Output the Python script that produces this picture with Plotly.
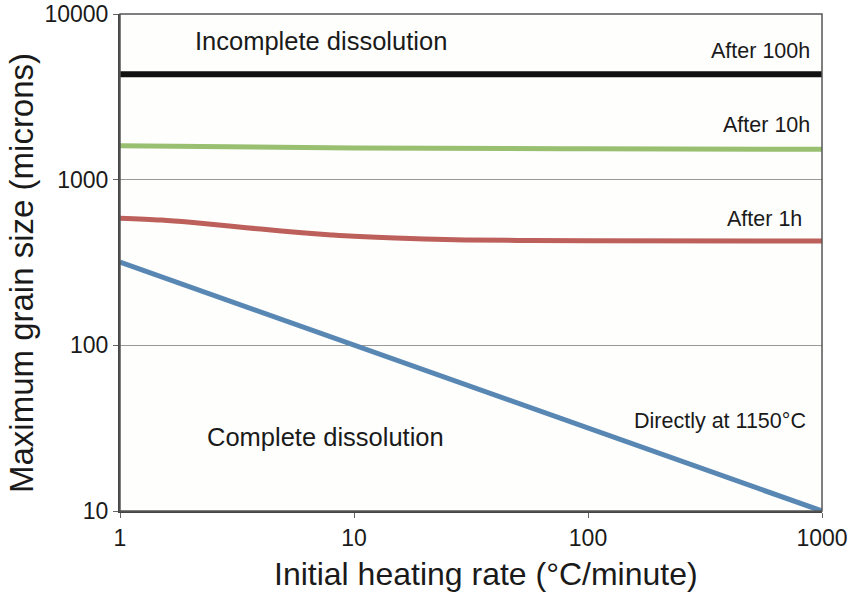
import plotly.graph_objects as go

rate_100h = [1, 10, 100, 1000]
size_100h = [4330, 4330, 4330, 4330]

rate_10h = [1, 10, 100, 1000]
size_10h = [1600, 1555, 1535, 1525]

rate_1h = [1, 1.5, 2, 3, 4, 6, 8, 10, 15, 20, 30, 50, 100, 1000]
size_1h = [585, 570, 553, 524, 503, 478, 464, 455, 444, 438, 433, 430, 428, 426]

rate_direct = [1, 10, 100, 1000]
size_direct = [318, 100, 31.6, 10]

FONT = "Liberation Sans, Arial, Helvetica, sans-serif"
TXT = "#1a1a1a"

fig = go.Figure()
fig.add_trace(go.Scatter(x=rate_100h, y=size_100h, mode="lines",
                         line=dict(color="#111111", width=6), name="After 100h"))
fig.add_trace(go.Scatter(x=rate_10h, y=size_10h, mode="lines",
                         line=dict(color="#98c070", width=5, shape="spline"), name="After 10h"))
fig.add_trace(go.Scatter(x=rate_1h, y=size_1h, mode="lines",
                         line=dict(color="#bd5f5a", width=5, shape="spline", smoothing=1.0), name="After 1h"))
fig.add_trace(go.Scatter(x=rate_direct, y=size_direct, mode="lines",
                         line=dict(color="#5887b3", width=5), name="Directly at 1150°C"))

def ann(text, x, y, xanchor, size, angle=0):
    fig.add_annotation(text=text, x=x, y=y, xref="paper", yref="paper",
                       xanchor=xanchor, yanchor="middle", showarrow=False, textangle=angle,
                       font=dict(family=FONT, size=size, color=TXT))

ann("Incomplete dissolution", 0.286, 0.946, "center", 25.5)
ann("After 100h", 0.986, 0.926, "right", 21.5)
ann("After 10h", 0.986, 0.777, "right", 21.5)
ann("After 1h", 0.974, 0.588, "right", 21.5)
ann("Directly at 1150°C", 0.980, 0.181, "right", 21.5)
ann("Complete dissolution", 0.293, 0.149, "center", 25.5)

# axis titles
fig.add_annotation(text="Initial heating rate (°C/minute)", x=(486 - 120) / 702, y=(511 - 574) / 497,
                   xref="paper", yref="paper", xanchor="center", yanchor="middle", showarrow=False,
                   font=dict(family=FONT, size=32, color=TXT))
fig.add_annotation(text="Maximum grain size (microns)", x=(21 - 120) / 702, y=(511 - 273) / 497,
                   xref="paper", yref="paper", xanchor="center", yanchor="middle", showarrow=False,
                   textangle=-90, font=dict(family=FONT, size=33, color=TXT))

fig.update_layout(
    width=849, height=592,
    margin=dict(l=120, r=27, t=14, b=81, autoexpand=False),
    paper_bgcolor="white",
    plot_bgcolor="#fefefd",
    showlegend=False,
    font=dict(family=FONT, color=TXT),
)
fig.update_xaxes(
    type="log", range=[0, 3], automargin=False,
    tickvals=[1, 10, 100, 1000], ticktext=["1", "10", "100", "1000"],
    ticks="outside", ticklen=5, tickcolor="#666666", tickwidth=1,
    tickfont=dict(size=23, family=FONT, color=TXT),
    showgrid=False, zeroline=False,
    showline=True, linecolor="#444444", linewidth=2, mirror=False,
)
fig.update_yaxes(
    type="log", range=[1, 4], automargin=False,
    tickvals=[10, 100, 1000, 10000], ticktext=["10", "100", "1000", "10000"],
    ticks="outside", ticklen=5, tickcolor="#666666", tickwidth=1,
    tickfont=dict(size=23, family=FONT, color=TXT),
    showgrid=True, gridcolor="#999999", gridwidth=1, zeroline=False,
    showline=True, linecolor="#444444", linewidth=2, mirror=False,
)
fig.add_shape(type="rect", xref="paper", yref="paper", x0=0, y0=0, x1=1, y1=1,
              line=dict(color="#555555", width=1.5), layer="above")

fig.write_html("out.html", config={"displayModeBar": False},
               post_script="document.body.style.margin='0';document.body.style.overflow='hidden';")
